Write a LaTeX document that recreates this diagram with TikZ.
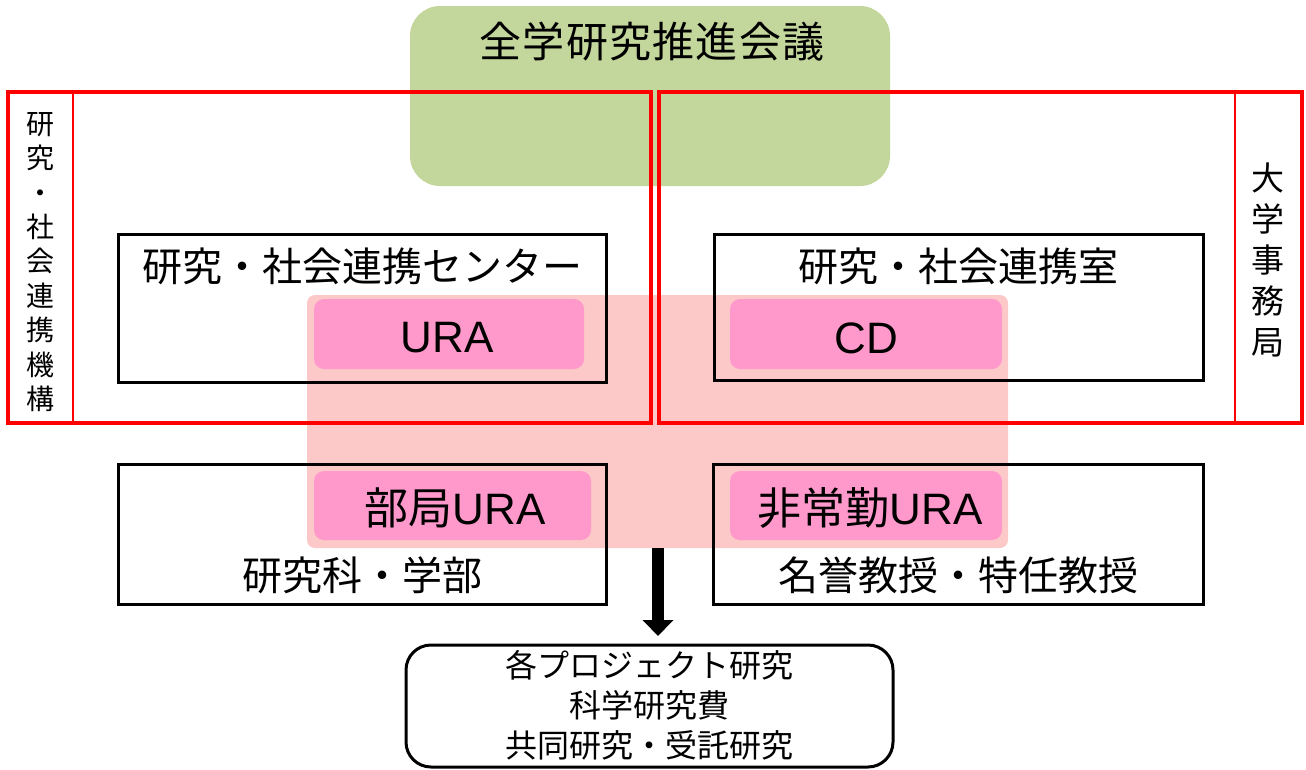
\documentclass[tikz,border=0pt]{standalone}
\usepackage{fontspec}
\setmainfont{Noto Sans CJK JP}
\newfontfamily\lat{Liberation Sans}
\newfontfamily\jpwide[LetterSpace=3]{Noto Sans CJK JP}
\usetikzlibrary{arrows.meta}
\definecolor{cgreen}{HTML}{C3D69B}
\definecolor{cpinkbg}{HTML}{FCC8C8}
\definecolor{cpink}{HTML}{FF99CC}
\begin{document}
\begin{tikzpicture}[x=1pt,y=-1pt,
  blackbox/.style={draw=black,line width=3pt,inner sep=0pt},
  redbox/.style={draw=red,line width=3.5pt,inner sep=0pt},
  pinkbox/.style={fill=cpink,rounded corners=10pt,inner sep=0pt},
  lbl/.style={inner sep=0pt,font=\fontsize{40}{48}\selectfont},
  pinklbl/.style={inner sep=0pt,font=\fontsize{44}{52}\selectfont},
  vtext/.style={inner sep=0pt,align=center},
]
\useasboundingbox (0,0) rectangle (1306,769);
% council
\node[fill=cgreen,rounded corners=30pt,minimum width=480pt,minimum height=180pt,inner sep=0pt] (council) at (650,96) {};
\node[inner sep=0pt,font=\jpwide\fontsize{42}{50}\selectfont] (councillbl) at (652,42) {全学研究推進会議};
% pink background
\node[fill=cpinkbg,rounded corners=8pt,minimum width=701pt,minimum height=253pt,inner sep=0pt] (urabg) at (657.5,421.5) {};
\node[pinkbox,minimum width=270pt,minimum height=70pt] (ura) at (449,334) {};
\node[pinkbox,minimum width=272pt,minimum height=70pt] (cd) at (866,334) {};
\node[pinkbox,minimum width=277pt,minimum height=69pt] (bura) at (452.5,505.5) {};
\node[pinkbox,minimum width=272pt,minimum height=69pt] (hura) at (866,505.5) {};
\node[pinklbl] (uralbl) at (447,338) {\lat URA};
\node[pinklbl] (cdlbl) at (866,338) {\lat CD};
\node[pinklbl] (buralbl) at (455,508) {部局{\lat URA}};
\node[pinklbl] (huralbl) at (870,508) {非常勤{\lat URA}};
% black boxes
\node[blackbox,minimum width=488pt,minimum height=148pt] (center) at (362,308) {};
\node[blackbox,minimum width=489pt,minimum height=146pt] (room) at (958.5,307) {};
\node[blackbox,minimum width=488pt,minimum height=140pt] (faculty) at (362,534) {};
\node[blackbox,minimum width=490pt,minimum height=140pt] (emeritus) at (958,534) {};
\node[lbl] (centerlbl) at (362,266) {研究・社会連携センター};
\node[lbl] (roomlbl) at (958,266) {研究・社会連携室};
\node[lbl] (facultylbl) at (362,575) {研究科・学部};
\node[lbl] (emerituslbl) at (958,575) {名誉教授・特任教授};
% red boxes
\node[redbox,minimum width=643pt,minimum height=331pt] (org) at (329.5,257.5) {};
\node[redbox,minimum width=643pt,minimum height=331pt] (office) at (980.5,257.5) {};
\draw[red,line width=1.5pt] (73,92) -- (73,423);
\draw[red,line width=1.5pt] (1235,92) -- (1235,423);
\node[vtext,font=\fontsize{28}{34.4}\selectfont] (orglbl) at (41,262) {研\\究\\・\\社\\会\\連\\携\\機\\構};
\node[vtext,font=\fontsize{33}{41}\selectfont] (officelbl) at (1268,260) {大\\学\\事\\務\\局};
% bottom box
\node[draw=black,line width=3pt,rounded corners=25pt,minimum width=487pt,minimum height=122pt,inner sep=0pt] (projects) at (649.5,706) {};
\node[inner sep=0pt,align=center,font=\fontsize{32}{40}\selectfont] (projlbl) at (649.5,705) {各プロジェクト研究\\科学研究費\\共同研究・受託研究};
% arrow
\draw[line width=12pt,-{Triangle[width=30pt,length=16pt]},shorten >=9pt] (urabg.south -| 658,0) -- (658,645);
\end{tikzpicture}
\end{document}
